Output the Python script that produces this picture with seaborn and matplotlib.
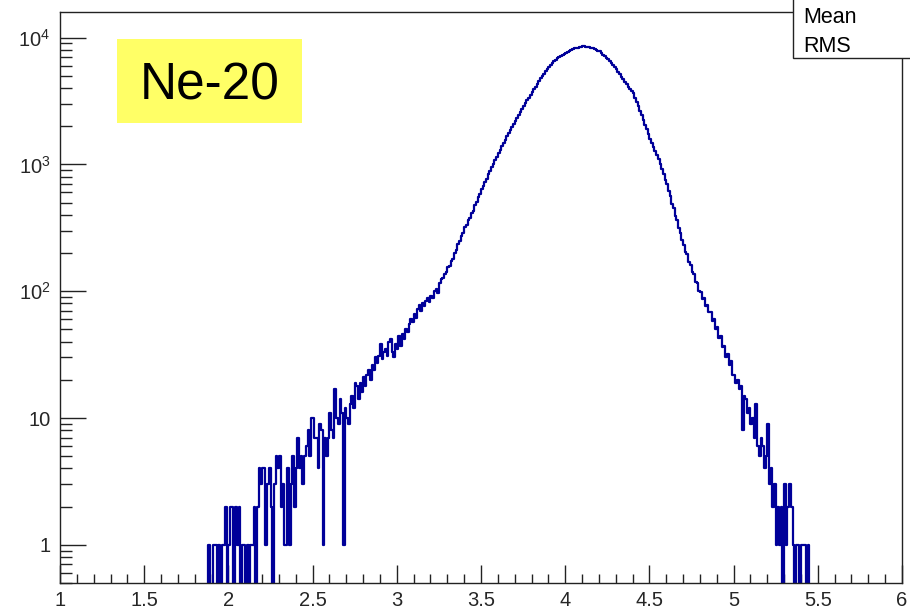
import numpy as np
import pandas as pd
import matplotlib
matplotlib.use("Agg")
import matplotlib.pyplot as plt
import seaborn as sns
from matplotlib.ticker import FixedLocator, MultipleLocator, LogLocator, NullFormatter
from matplotlib.patches import Rectangle

# Histogram contents: 0.01-wide bins starting at first_edge
first_edge = 1.80
bin_width = 0.01
counts = [
    0, 0, 0, 0, 0, 0, 0, 0, 1, 0,                                  # 1.80
    0, 1, 1, 0, 1, 0, 1, 1, 2, 0,                                  # 1.90
    1, 2, 2, 0, 2, 1, 2, 0, 1, 1,                                  # 2.00
    0, 1, 0, 1, 1, 2, 0, 2, 4, 3,                                  # 2.10
    4, 4, 1, 3, 4, 2, 0, 3, 5, 4,                                  # 2.20
    5, 2, 3, 1, 1, 4, 1, 3, 5, 2,                                  # 2.30
    4, 7, 4, 5, 3, 5, 6, 8, 5, 10,                                 # 2.40
    10, 7, 7, 4, 9, 8, 1, 7, 5, 7,                                 # 2.50
    11, 8, 7, 17, 10, 9, 14, 11, 1, 12,                            # 2.60
    10, 9, 13, 15, 12, 19, 18, 14, 19, 16,                         # 2.70
    21, 18, 22, 24, 20, 26, 24, 30, 27, 31,                        # 2.80
    38, 29, 33, 35, 31, 40, 42, 33, 30, 38,                        # 2.90
    35, 44, 37, 46, 42, 50, 48, 55, 60, 57,                        # 3.00
    66, 62, 72, 78, 70, 80, 76, 84, 88, 82,                        # 3.10
    92, 88, 101, 104, 97, 117, 124, 126, 136, 141,                 # 3.20
    154, 158, 174, 181, 201, 211, 235, 248, 273, 289,              # 3.30
    320, 333, 364, 379, 414, 432, 476, 501, 551, 580,              # 3.40
    637, 670, 731, 770, 839, 884, 958, 1006, 1090, 1145,           # 3.50
    1230, 1306, 1387, 1472, 1563, 1660, 1754, 1854, 1959, 2070,    # 3.60
    2188, 2312, 2443, 2582, 2729, 2884, 3034, 3192, 3357, 3532,    # 3.70
    3715, 3908, 4111, 4325, 4550, 4786, 4989, 5200, 5420, 5649,    # 3.80
    5888, 6081, 6281, 6486, 6699, 6918, 7047, 7178, 7311, 7447,    # 3.90
    7586, 7709, 7834, 7962, 8091, 8222, 8279, 8337, 8395, 8453,    # 4.00
    8511, 8511, 8472, 8433, 8375, 8318, 8204, 8091, 7980, 7870,    # 4.10
    7762, 7551, 7345, 7145, 6950, 6761, 6516, 6281, 6053, 5834,    # 4.20
    5623, 5370, 5129, 4898, 4677, 4467, 4285, 4111, 3945, 3784,    # 4.30
    3631, 3357, 3105, 2871, 2655, 2455, 2249, 2061, 1888, 1730,    # 4.40
    1585, 1472, 1368, 1271, 1180, 1096, 1000, 912, 832, 759,       # 4.50
    699, 612, 561, 490, 451, 392, 361, 314, 290, 251,              # 4.60
    233, 205, 195, 170, 161, 142, 136, 119, 116, 101,              # 4.70
    98, 87, 88, 77, 78, 68, 69, 58, 60, 50,                        # 4.80
    52, 43, 44, 36, 37, 30, 32, 26, 28, 22,                        # 4.90
    22, 19, 20, 17, 18, 8, 15, 14, 11, 12,                         # 5.00
    9, 10, 7, 13, 6, 5, 7, 6, 4, 5,                                # 5.10
    9, 3, 4, 2, 3, 1, 2, 1, 2, 0,                                  # 5.20
    3, 1, 2, 3, 2, 1, 0, 1, 1, 0,                                  # 5.30
    1, 1, 1, 0, 1, 0, 0, 0, 0, 0,                                  # 5.40
]

label_text = "Ne-20"
stats_labels = ["Mean", "RMS"]
x_ticks = [1, 1.5, 2, 2.5, 3, 3.5, 4, 4.5, 5, 5.5, 6]
x_tick_labels = ["1", "1.5", "2", "2.5", "3", "3.5", "4", "4.5", "5", "5.5", "6"]
y_ticks = [1, 10, 100, 1000, 10000]
y_tick_labels = ["1", "10", r"$\mathdefault{10^{2}}$", r"$\mathdefault{10^{3}}$",
                 r"$\mathdefault{10^{4}}$"]

sns.set_style("ticks")
plt.rcParams["font.family"] = ["Liberation Sans", "DejaVu Sans"]
plt.rcParams["mathtext.fontset"] = "custom"
plt.rcParams["mathtext.rm"] = "Liberation Sans"
plt.rcParams["mathtext.default"] = "regular"

W, H = 910, 610
fig = plt.figure(figsize=(W / 100, H / 100), dpi=100)
fig.patch.set_facecolor("white")
ax = fig.add_axes([60 / W, (H - 583) / H, (902 - 60) / W, (583 - 12) / H])

edges = first_edge + bin_width * np.arange(len(counts) + 1)
centers = edges[:-1] + bin_width / 2
df = pd.DataFrame({"energy": centers, "entries": counts})

sns.histplot(data=df, x="energy", weights="entries", bins=edges.tolist(),
             element="step", fill=False, color="#000099", linewidth=1.6,
             ax=ax)

ax.set_yscale("log")
ax.set_xlim(1, 6)
ax.set_ylim(0.5, 15900)
ax.set_xlabel("")
ax.set_ylabel("")

ax.xaxis.set_major_locator(FixedLocator(x_ticks))
ax.set_xticklabels(x_tick_labels)
ax.xaxis.set_minor_locator(MultipleLocator(0.1))
ax.yaxis.set_major_locator(FixedLocator(y_ticks))
ax.set_yticklabels(y_tick_labels)
ax.yaxis.set_minor_locator(LogLocator(base=10, subs=np.arange(2, 10), numticks=20))
ax.yaxis.set_minor_formatter(NullFormatter())

ax.tick_params(axis="both", which="both", bottom=True, left=True, top=False,
               right=False, direction="in", color="#222222", width=1.0)
ax.tick_params(axis="x", which="major", length=13, labelsize=14.5, pad=6)
ax.tick_params(axis="x", which="minor", length=6.5)
ax.tick_params(axis="y", which="major", length=18.5, labelsize=14.5, pad=7)
ax.tick_params(axis="y", which="minor", length=8.5)

for side in ["left", "bottom", "top", "right"]:
    ax.spines[side].set_visible(True)
    ax.spines[side].set_color("#222222")
    ax.spines[side].set_linewidth(1.0)

# Yellow label box
fig.patches.append(Rectangle((117 / W, 1 - 123 / H), (302 - 117) / W, (123 - 39) / H,
                             transform=fig.transFigure, facecolor="#FFFF66",
                             edgecolor="none", zorder=5))
fig.text(209.5 / W, 1 - 100 / H, label_text, ha="center", va="baseline",
         fontsize=37, color="black", zorder=6)

# Statistics box in the corner
fig.patches.append(Rectangle((793 / W, 1 - 58 / H), 0.2, 0.2,
                             transform=fig.transFigure, facecolor="white",
                             edgecolor="#222222", linewidth=1.0, zorder=5))
fig.text(803 / W, 1 - 23 / H, stats_labels[0], ha="left", va="baseline",
         fontsize=15.5, color="black", zorder=6)
fig.text(803 / W, 1 - 52 / H, stats_labels[1], ha="left", va="baseline",
         fontsize=15.5, color="black", zorder=6)

fig.savefig("out.png", dpi=100)
